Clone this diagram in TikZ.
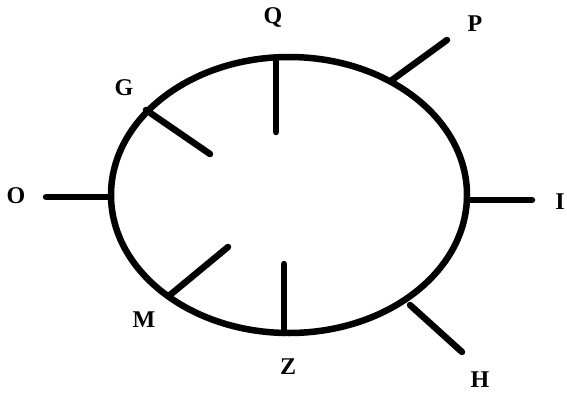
\documentclass[tikz,border=0pt]{standalone}
\usepackage{fontspec}
\setmainfont{Liberation Serif}
\usetikzlibrary{shapes.geometric}
\begin{document}
\begin{tikzpicture}[x=1pt,y=-1pt,
  tick/.style={line width=6.5pt,line cap=round},
  lab/.style={font=\fontsize{24}{24}\selectfont\bfseries,inner sep=0pt}]
\useasboundingbox (0,0) rectangle (567,393);
\node[ellipse,draw,line width=6.5pt,minimum width=356pt,minimum height=276pt,inner sep=0pt,outer sep=0pt] (E) at (289,195) {};
% tick endpoints
\coordinate (q1) at (276,58);  \coordinate (q2) at (276,132);
\coordinate (p1) at (392,80);  \coordinate (p2) at (447,40);
\coordinate (g1) at (146,110); \coordinate (g2) at (210,154);
\coordinate (o1) at (111,197); \coordinate (o2) at (46,197);
\coordinate (i1) at (467,200); \coordinate (i2) at (532,200);
\coordinate (m1) at (170,295); \coordinate (m2) at (228,247);
\coordinate (z1) at (284,333); \coordinate (z2) at (284,264);
\coordinate (h1) at (410,305); \coordinate (h2) at (462,352);
\foreach \a in {q,p,g,o,i,m,z,h}{\draw[tick] (\a1) -- (\a2);}
\node[lab] (Q) at (273,18) {Q};
\node[lab] (P) at (475,24) {P};
\node[lab] (G) at (124,88) {G};
\node[lab] (O) at (16,196) {O};
\node[lab] (I) at (560,202) {I};
\node[lab] (M) at (144,320) {M};
\node[lab] (Z) at (288,367) {Z};
\node[lab] (H) at (480,380) {H};
\end{tikzpicture}
\end{document}
